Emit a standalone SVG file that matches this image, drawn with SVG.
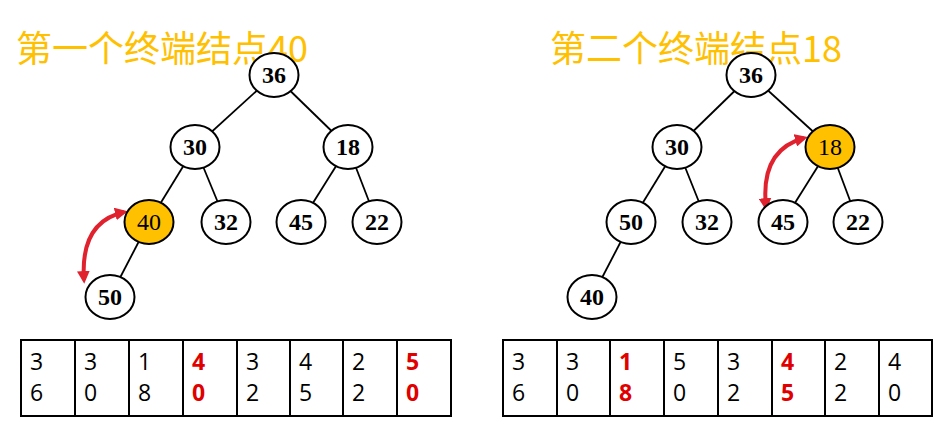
<svg xmlns="http://www.w3.org/2000/svg" width="946" height="439" viewBox="0 0 946 439">
<style>
.title{font-family:"Noto Sans CJK SC","Noto Sans",sans-serif;font-size:36px;fill:#FFC000}
.node ellipse{fill:#fff;stroke:#000;stroke-width:2}
.node.hl ellipse{fill:#FFC000}
.node text{font-family:"Liberation Serif",serif;font-size:24px;font-weight:bold;text-anchor:middle;fill:#000}
.node.hl text{font-weight:normal}
.edges line{stroke:#000;stroke-width:1.8}
.swap{fill:none;stroke:#E0222F;stroke-width:4;marker-start:url(#ah);marker-end:url(#ah)}
.cell{fill:#fff;stroke:#000;stroke-width:2}
.d{font-family:"Open Sans","Liberation Sans",sans-serif;font-size:23px;fill:#000}
.r{fill:#E00000;font-weight:bold}
</style>
<defs>
<marker id="ah" viewBox="0 0 10 10" refX="7" refY="5" markerWidth="3.2" markerHeight="3.2" orient="auto-start-reverse" markerUnits="strokeWidth">
<path d="M0,0 L10,5 L0,10 z" fill="#E0222F"/>
</marker>
</defs>
<rect width="946" height="439" fill="#fff"/>
<text class="title" x="16" y="62">第一个终端结点40</text>
<text class="title" x="550" y="62">第二个终端结点18</text>

<g id="edges" class="edges">
<line x1="274" y1="75" x2="195" y2="147"/>
<line x1="274" y1="75" x2="348" y2="147"/>
<line x1="195" y1="147" x2="149" y2="222"/>
<line x1="195" y1="147" x2="226" y2="222"/>
<line x1="348" y1="147" x2="301" y2="222"/>
<line x1="348" y1="147" x2="377" y2="222"/>
<line x1="149" y1="222" x2="110" y2="297"/>
<line x1="751" y1="75" x2="677" y2="147"/>
<line x1="751" y1="75" x2="830" y2="147"/>
<line x1="677" y1="147" x2="631" y2="222"/>
<line x1="677" y1="147" x2="707" y2="222"/>
<line x1="830" y1="147" x2="783" y2="222"/>
<line x1="830" y1="147" x2="858" y2="222"/>
<line x1="631" y1="222" x2="592" y2="297"/>
<path class="swap" d="M84,280 Q80,222 124,212"/>
<path class="swap" d="M766,207 Q760,150 804,138"/>
</g>

<g id="L36" class="node"><ellipse cx="274" cy="75" rx="24.5" ry="22"/><text x="274" y="83">36</text></g>
<g id="L30" class="node"><ellipse cx="195" cy="147" rx="24.5" ry="22"/><text x="195" y="155">30</text></g>
<g id="L18" class="node"><ellipse cx="348" cy="147" rx="24.5" ry="22"/><text x="348" y="155">18</text></g>
<g id="L40" class="node hl"><ellipse cx="149" cy="222" rx="24.5" ry="22"/><text x="149" y="230">40</text></g>
<g id="L32" class="node"><ellipse cx="226" cy="222" rx="24.5" ry="22"/><text x="226" y="230">32</text></g>
<g id="L45" class="node"><ellipse cx="301" cy="222" rx="24.5" ry="22"/><text x="301" y="230">45</text></g>
<g id="L22" class="node"><ellipse cx="377" cy="222" rx="24.5" ry="22"/><text x="377" y="230">22</text></g>
<g id="L50" class="node"><ellipse cx="110" cy="297" rx="24.5" ry="22"/><text x="110" y="305">50</text></g>

<g id="R36" class="node"><ellipse cx="751" cy="75" rx="24.5" ry="22"/><text x="751" y="83">36</text></g>
<g id="R30" class="node"><ellipse cx="677" cy="147" rx="24.5" ry="22"/><text x="677" y="155">30</text></g>
<g id="R18" class="node hl"><ellipse cx="830" cy="147" rx="24.5" ry="22"/><text x="830" y="155">18</text></g>
<g id="R50" class="node"><ellipse cx="631" cy="222" rx="24.5" ry="22"/><text x="631" y="230">50</text></g>
<g id="R32" class="node"><ellipse cx="707" cy="222" rx="24.5" ry="22"/><text x="707" y="230">32</text></g>
<g id="R45" class="node"><ellipse cx="783" cy="222" rx="24.5" ry="22"/><text x="783" y="230">45</text></g>
<g id="R22" class="node"><ellipse cx="858" cy="222" rx="24.5" ry="22"/><text x="858" y="230">22</text></g>
<g id="R40" class="node"><ellipse cx="592" cy="297" rx="24.5" ry="22"/><text x="592" y="305">40</text></g>

<g id="arrayL">
<rect class="cell" x="21" y="340" width="54" height="76"/>
<rect class="cell" x="75" y="340" width="54" height="76"/>
<rect class="cell" x="129" y="340" width="54" height="76"/>
<rect class="cell" x="183" y="340" width="54" height="76"/>
<rect class="cell" x="237" y="340" width="53" height="76"/>
<rect class="cell" x="290" y="340" width="53" height="76"/>
<rect class="cell" x="343" y="340" width="54" height="76"/>
<rect class="cell" x="397" y="340" width="54" height="76"/>
<text class="d" x="30" y="370">3</text><text class="d" x="30" y="401">6</text>
<text class="d" x="84" y="370">3</text><text class="d" x="84" y="401">0</text>
<text class="d" x="138" y="370">1</text><text class="d" x="138" y="401">8</text>
<text class="d r" x="192" y="370">4</text><text class="d r" x="192" y="401">0</text>
<text class="d" x="246" y="370">3</text><text class="d" x="246" y="401">2</text>
<text class="d" x="299" y="370">4</text><text class="d" x="299" y="401">5</text>
<text class="d" x="352" y="370">2</text><text class="d" x="352" y="401">2</text>
<text class="d r" x="406" y="370">5</text><text class="d r" x="406" y="401">0</text>
</g>

<g id="arrayR">
<rect class="cell" x="503" y="340" width="54" height="76"/>
<rect class="cell" x="557" y="340" width="53" height="76"/>
<rect class="cell" x="610" y="340" width="54" height="76"/>
<rect class="cell" x="664" y="340" width="54" height="76"/>
<rect class="cell" x="718" y="340" width="54" height="76"/>
<rect class="cell" x="772" y="340" width="53" height="76"/>
<rect class="cell" x="825" y="340" width="54" height="76"/>
<rect class="cell" x="879" y="340" width="53" height="76"/>
<text class="d" x="512" y="370">3</text><text class="d" x="512" y="401">6</text>
<text class="d" x="566" y="370">3</text><text class="d" x="566" y="401">0</text>
<text class="d r" x="619" y="370">1</text><text class="d r" x="619" y="401">8</text>
<text class="d" x="673" y="370">5</text><text class="d" x="673" y="401">0</text>
<text class="d" x="727" y="370">3</text><text class="d" x="727" y="401">2</text>
<text class="d r" x="781" y="370">4</text><text class="d r" x="781" y="401">5</text>
<text class="d" x="834" y="370">2</text><text class="d" x="834" y="401">2</text>
<text class="d" x="888" y="370">4</text><text class="d" x="888" y="401">0</text>
</g>
</svg>
